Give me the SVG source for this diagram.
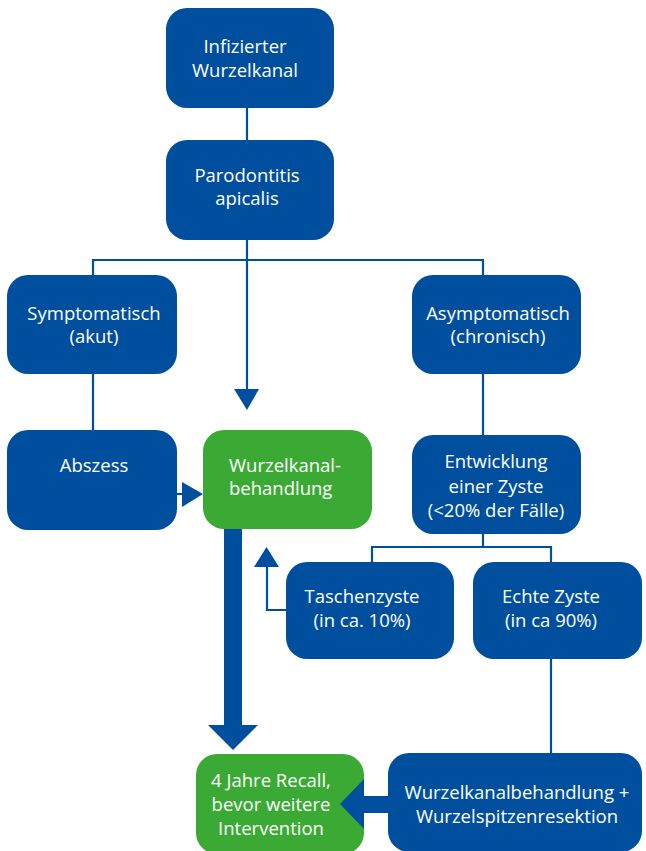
<svg xmlns="http://www.w3.org/2000/svg" width="646" height="851" viewBox="0 0 646 851">
<style>
.b{fill:#004f9f}
.g{fill:#3aaa35}
.t{fill:#fff;font-family:"Open Sans","Liberation Sans",sans-serif;font-size:18.5px;text-anchor:middle}
.l{stroke:#004f9f;stroke-width:2.2;fill:none}
.a{fill:#004f9f}
</style>
<rect width="646" height="851" fill="#fff"/>
<g id="connectors">
<path class="l" d="M247 108V140"/>
<path class="l" d="M247 240V390"/>
<polygon class="a" points="234,389 259,389 247,410"/>
<path class="l" d="M93 275V260H483V275"/>
<path class="l" d="M93 374V430"/>
<path class="l" d="M483 374V435"/>
<path class="l" d="M177 494H183"/>
<polygon class="a" points="182,482 203,494 182,507"/>
<path class="l" d="M483 534V547H372V562M483 547H551V562"/>
<path class="l" d="M551 659V753"/>
<path class="l" d="M286 610H267V566"/>
<polygon class="a" points="254,567 279,567 266.5,547"/>
<rect class="a" x="224" y="529" width="18" height="197"/>
<polygon class="a" points="208,725 258,725 233,750"/>
</g>
<g id="n1"><rect class="b" x="166" y="8" width="168" height="100" rx="21"/><text class="t" x="245" y="52.5">Infizierter</text><text class="t" x="245" y="76.5">Wurzelkanal</text></g>
<g id="n2"><rect class="b" x="166" y="140" width="168" height="100" rx="21"/><text class="t" x="247" y="181.5">Parodontitis</text><text class="t" x="247" y="205">apicalis</text></g>
<g id="n3"><rect class="b" x="7" y="275" width="170" height="99" rx="21"/><text class="t" x="94" y="320">Symptomatisch</text><text class="t" x="94" y="343">(akut)</text></g>
<g id="n4"><rect class="b" x="412" y="275" width="169" height="99" rx="21"/><text class="t" x="498" y="320">Asymptomatisch</text><text class="t" x="498" y="343">(chronisch)</text></g>
<g id="n5"><rect class="b" x="7" y="430" width="170" height="100" rx="21"/><text class="t" x="94" y="472">Abszess</text></g>
<g id="n6"><rect class="g" x="203" y="430" width="169" height="99" rx="21"/><text class="t" x="229" y="472" style="text-anchor:start">Wurzelkanal-</text><text class="t" x="229" y="495" style="text-anchor:start">behandlung</text></g>
<g id="n7"><rect class="b" x="412" y="435" width="169" height="99" rx="21"/><text class="t" x="496" y="468">Entwicklung</text><text class="t" x="496" y="493">einer Zyste</text><text class="t" x="496" y="517">(&lt;20% der Fälle)</text></g>
<g id="n8"><rect class="b" x="286" y="562" width="168" height="97" rx="21"/><text class="t" x="362" y="603">Taschenzyste</text><text class="t" x="362" y="627">(in ca. 10%)</text></g>
<g id="n9"><rect class="b" x="473" y="562" width="169" height="97" rx="21"/><text class="t" x="551" y="603">Echte Zyste</text><text class="t" x="551" y="627">(in ca 90%)</text></g>
<g id="n10"><rect class="g" x="196" y="754" width="168" height="100" rx="21"/><text class="t" x="271" y="787">4 Jahre Recall,</text><text class="t" x="271" y="811">bevor weitere</text><text class="t" x="271" y="835">Intervention</text></g>
<g id="n11"><rect class="b" x="388" y="753" width="254" height="99" rx="21"/><text class="t" x="517" y="799">Wurzelkanalbehandlung +</text><text class="t" x="517" y="823">Wurzelspitzenresektion</text></g>
<g id="connectors2">
<rect class="a" x="362" y="796" width="27" height="17"/>
<polygon class="a" points="364,779 364,829 340,804"/>
</g>
</svg>
